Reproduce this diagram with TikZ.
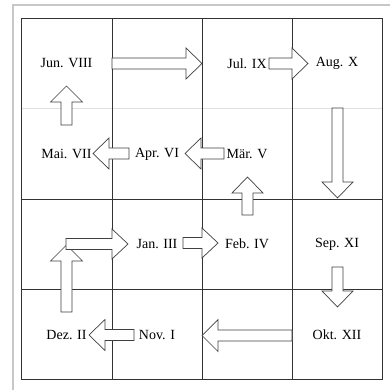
\documentclass[tikz,border=0pt]{standalone}
\usepackage{fontspec}
\setmainfont{Liberation Serif}
\newcommand\fatarrow[4]{% #1 start, #2 angle, #3 length, #4 head half width
  \draw[arr, shift={#1}, rotate=#2] (0,-5.5) -- ({#3-16},-5.5) -- ({#3-16},-#4) -- (#3,0) -- ({#3-16},#4) -- ({#3-16},5.5) -- (0,5.5) -- cycle;}
\begin{document}
\begin{tikzpicture}[x=1pt,y=-1pt,
  gridline/.style={draw=black!80, line width=0.8pt},
  arr/.style={draw=black!75, fill=white, line width=0.7pt, line join=miter},
  lbl/.style={font=\fontsize{14}{16}\selectfont, inner sep=1pt}]
\useasboundingbox (0,0) rectangle (390,390);
\fill[white] (0,0) rectangle (390,390);
\draw[black!22, line width=1.2pt] (13,390) -- (13,5) -- (390,5);
% faint line
\draw[black!12, line width=0.8pt] (21,108.5) -- (382,108.5);
% grid
\draw[gridline] (21,18) rectangle (382,379.5);
\foreach \x in {112,202,292} \draw[gridline] (\x,18) -- (\x,379.5);
\foreach \y in {199,289} \draw[gridline] (21,\y) -- (382,\y);
% labels
\node[lbl] (jun) at (66.5,63.5) {Jun. VIII};
\node[lbl] (jul) at (247,63.5) {Jul. IX};
\node[lbl] (aug) at (337,63.5) {Aug. X};
\node[lbl] (mai) at (66.5,154) {Mai. VII};
\node[lbl] (apr) at (157,154) {Apr. VI};
\node[lbl] (mar) at (247,154) {Mär. V};
\node[lbl] (jan) at (157,244) {Jan. III};
\node[lbl] (feb) at (247,244) {Feb. IV};
\node[lbl] (sep) at (337,244) {Sep. XI};
\node[lbl] (dez) at (66.5,335) {Dez. II};
\node[lbl] (nov) at (157,335) {Nov. I};
\node[lbl] (okt) at (337,335) {Okt. XII};
% arrows
\fatarrow{(112,63.5)}{0}{90}{15.5}
\fatarrow{(269,63.5)}{0}{39}{15.5}
\fatarrow{(337.5,108)}{-90}{90}{15.5}
\fatarrow{(337.5,267)}{-90}{40}{15.5}
\fatarrow{(292,335.5)}{180}{90}{16}
\fatarrow{(134,335)}{180}{45}{15.5}
\fatarrow{(66.5,312)}{90}{67}{16}
\fatarrow{(66,244)}{0}{62}{15}
\fatarrow{(183,243)}{0}{35}{15}
\fatarrow{(247.5,215)}{90}{38}{15.5}
\fatarrow{(224,153.5)}{180}{39}{15.5}
\fatarrow{(129,153.5)}{180}{36}{15.5}
\fatarrow{(66.5,125)}{90}{39}{16}
\end{tikzpicture}
\end{document}
